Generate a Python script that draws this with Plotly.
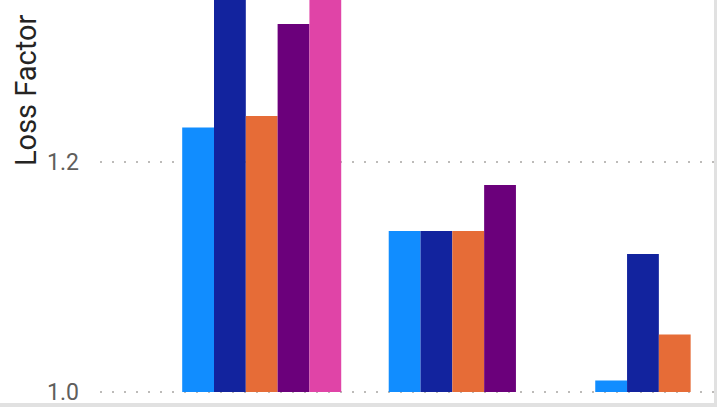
import plotly.graph_objects as go

# groups along the x axis (axis labels are cut off in the reference)
categories = ["Group 1", "Group 2", "Group 3"]

# loss factor per series; None = no bar drawn
series_names = ["Series 1", "Series 2", "Series 3", "Series 4", "Series 5"]
s1 = [1.23, 1.14, 1.01]
s2 = [1.37, 1.14, 1.12]
s3 = [1.24, 1.14, 1.05]
s4 = [1.32, 1.18, None]
s5 = [1.36, None, None]

y_ticks = [1.0, 1.2]
y_labels = ["1.0", "1.2"]

colors = ["#118DFF", "#12239E", "#E66C37", "#6B007B", "#E044A7"]

W, H = 717, 407
L, R, T, B = 100, 3, 0, 3
PW, PH = W - L - R, H - T - B

fig = go.Figure()
for name, vals, col in zip(series_names, [s1, s2, s3, s4, s5], colors):
    # bars grow from the 1.0 baseline like the Power BI visual
    fig.add_trace(go.Bar(
        x=categories,
        y=[v - 1.0 if v is not None else None for v in vals],
        base=1.0,
        name=name,
        marker=dict(color=col, line=dict(width=0)),
        customdata=vals,
        hovertemplate="%{customdata}<extra>" + name + "</extra>",
    ))

fig.update_layout(
    width=W, height=H,
    margin=dict(l=L, r=R, t=T, b=B),
    paper_bgcolor="white",
    plot_bgcolor="white",
    showlegend=False,
    barmode="group",
    bargap=0.23,
    bargroupgap=0,
    font=dict(family="Roboto, sans-serif"),
    xaxis=dict(
        range=[-0.783, 2.19],
        showticklabels=False,
        showgrid=False,
        zeroline=False,
        showline=False,
        ticks="",
    ),
    yaxis=dict(
        range=[1.0 - 12 / 1150, 1.0 + 392 / 1150],
        tickvals=y_ticks,
        ticktext=y_labels,
        tickfont=dict(size=23, color="#605E5C"),
        ticklabelstandoff=20,
        showgrid=True,
        gridcolor="#BDBBB9",
        gridwidth=1.5,
        griddash="2px,10px",
        zeroline=False,
        showline=False,
        ticks="",
    ),
    annotations=[dict(
        text="Loss Factor",
        xref="paper", yref="paper",
        x=(26 - L) / PW, y=1 - (90 - T) / PH,
        xanchor="center", yanchor="middle",
        textangle=-90,
        showarrow=False,
        font=dict(size=29, color="#252423"),
    )],
    shapes=[
        # grey frame edges along bottom and right of the screenshot
        dict(type="rect", xref="paper", yref="paper",
             x0=-L / PW, x1=1 + R / PW,
             y0=-B / PH, y1=(4 - B) / PH,
             fillcolor="#E1E1E1", line=dict(width=0), layer="above"),
        dict(type="rect", xref="paper", yref="paper",
             x0=1, x1=1 + R / PW,
             y0=-B / PH, y1=1,
             fillcolor="#E1E1E1", line=dict(width=0), layer="above"),
    ],
)

# drop the browser's default body margin so the figure fills the window
fig.write_html("out.html", config={"displayModeBar": False},
               post_script="document.body.style.margin='0';")
